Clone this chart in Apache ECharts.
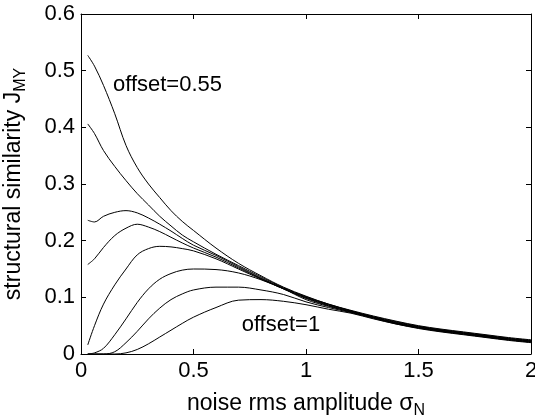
<!DOCTYPE html>
<html>
<head>
<meta charset="utf-8">
<script src="https://cdn.jsdelivr.net/npm/echarts@6/dist/echarts.min.js"></script>
<style>
html,body{margin:0;padding:0;background:#fff;}
#chart{width:535px;height:420px;}
</style>
</head>
<body>
<div id="chart"></div>
<script>
// noise rms amplitude sigma_N (shared x values)
const xs = [0.03, 0.06, 0.1, 0.15, 0.2, 0.25, 0.3, 0.35, 0.4, 0.45, 0.5, 0.6, 0.7, 0.8, 0.9, 1.0, 1.1, 1.2, 1.3, 1.4, 1.5, 1.6, 1.7, 1.8, 1.9, 2.0];
// structural similarity J_MY, one curve per offset (0.55 ... 1)
const curve1 = [0.527, 0.508, 0.474, 0.424, 0.368, 0.329, 0.300, 0.276, 0.253, 0.234, 0.218, 0.187, 0.160, 0.138, 0.118, 0.102, 0.088, 0.077, 0.067, 0.058, 0.050, 0.044, 0.039, 0.034, 0.029, 0.025];
const curve2 = [0.406, 0.389, 0.359, 0.331, 0.306, 0.283, 0.263, 0.243, 0.226, 0.210, 0.198, 0.176, 0.156, 0.136, 0.117, 0.101, 0.088, 0.076, 0.066, 0.057, 0.049, 0.043, 0.038, 0.033, 0.028, 0.024];
const curve3 = [0.236, 0.233, 0.243, 0.250, 0.253, 0.249, 0.240, 0.229, 0.217, 0.204, 0.192, 0.174, 0.154, 0.134, 0.116, 0.100, 0.087, 0.076, 0.065, 0.056, 0.048, 0.042, 0.037, 0.032, 0.027, 0.023];
const curve4 = [0.158, 0.168, 0.188, 0.209, 0.222, 0.229, 0.224, 0.216, 0.206, 0.196, 0.187, 0.171, 0.152, 0.133, 0.115, 0.099, 0.086, 0.075, 0.065, 0.055, 0.048, 0.042, 0.037, 0.032, 0.027, 0.023];
const curve5 = [0.016, 0.050, 0.088, 0.122, 0.150, 0.175, 0.186, 0.190, 0.189, 0.186, 0.182, 0.168, 0.150, 0.132, 0.115, 0.098, 0.085, 0.074, 0.064, 0.054, 0.047, 0.041, 0.036, 0.031, 0.026, 0.022];
const curve6 = [0.000, 0.002, 0.010, 0.034, 0.062, 0.091, 0.115, 0.132, 0.142, 0.148, 0.150, 0.149, 0.143, 0.131, 0.115, 0.096, 0.084, 0.074, 0.064, 0.054, 0.046, 0.040, 0.035, 0.030, 0.025, 0.021];
const curve7 = [0.000, 0.000, 0.000, 0.004, 0.020, 0.040, 0.062, 0.081, 0.096, 0.106, 0.113, 0.118, 0.118, 0.113, 0.105, 0.092, 0.082, 0.073, 0.063, 0.053, 0.046, 0.040, 0.035, 0.030, 0.025, 0.021];
const curve8 = [0.000, 0.000, 0.000, 0.000, 0.002, 0.008, 0.018, 0.030, 0.042, 0.054, 0.065, 0.082, 0.095, 0.096, 0.093, 0.087, 0.079, 0.072, 0.062, 0.053, 0.045, 0.039, 0.034, 0.029, 0.024, 0.020];
const curves = [curve1, curve2, curve3, curve4, curve5, curve6, curve7, curve8];

// annotation texts and their anchor points (data coordinates)
const noteTexts = ['offset=0.55', 'offset=1'];
const noteX = [0.142, 0.714];
const noteY = [0.475, 0.051];

// axes
const xTicks = {min: 0, max: 2, interval: 0.5};
const yTicks = {min: 0, max: 0.6, interval: 0.1};

const FONT = 'Liberation Sans';
const chart = echarts.init(document.getElementById('chart'), null, {renderer: 'canvas'});

const lineSeries = curves.map((c, k) => ({
  type: 'line',
  name: 'c' + (k + 1),
  data: xs.map((x, i) => [x, c[i]]),
  xAxisIndex: 0, yAxisIndex: 0,
  smooth: 0.35,
  showSymbol: false,
  symbol: 'none',
  clip: true,
  lineStyle: {color: '#000', width: 1},
  silent: true,
  animation: false
}));

const noteSeries = {
  type: 'scatter',
  xAxisIndex: 0, yAxisIndex: 0,
  symbolSize: 0,
  itemStyle: {opacity: 1},
  data: noteTexts.map((t, i) => ({value: [noteX[i], noteY[i]], name: t})),
  label: {
    show: true, position: 'right', distance: 0,
    formatter: p => p.name,
    color: '#000', opacity: 1, fontFamily: FONT, fontSize: 22
  },
  silent: true, animation: false
};

const axisCommon = {
  axisLine: {show: true, onZero: false, lineStyle: {color: '#000', width: 1}},
  axisTick: {show: true, inside: true, length: 5, lineStyle: {color: '#000', width: 1}},
  splitLine: {show: false}
};

chart.setOption({
  animation: false,
  backgroundColor: '#fff',
  grid: {left: 81, right: 4, top: 14, bottom: 66, containLabel: false, outerBoundsMode: 'none'},
  xAxis: [
    Object.assign({
      type: 'value', position: 'bottom',
      min: xTicks.min, max: xTicks.max, interval: xTicks.interval,
      axisLabel: {color: '#000', fontFamily: FONT, fontSize: 22, margin: 6},
      name: '{a|noise rms amplitude σ}{b|N}',
      nameLocation: 'middle', nameGap: 35,
      nameTextStyle: {
        color: '#000', fontFamily: FONT, fontSize: 23,
        rich: {
          a: {fontFamily: FONT, fontSize: 23, color: '#000'},
          b: {fontFamily: FONT, fontSize: 16, color: '#000', padding: [14, 0, 0, 0]}
        }
      }
    }, axisCommon),
    Object.assign({
      type: 'value', position: 'top',
      min: xTicks.min, max: xTicks.max, interval: xTicks.interval,
      axisLabel: {show: false}
    }, axisCommon)
  ],
  yAxis: [
    Object.assign({
      type: 'value', position: 'left',
      min: yTicks.min, max: yTicks.max, interval: yTicks.interval,
      axisLabel: {color: '#000', fontFamily: FONT, fontSize: 22, margin: 6},
      name: '{a|structural similarity J}{b|MY}',
      nameLocation: 'middle', nameGap: 52,
      nameTextStyle: {
        color: '#000', fontFamily: FONT, fontSize: 23,
        rich: {
          a: {fontFamily: FONT, fontSize: 23, color: '#000'},
          b: {fontFamily: FONT, fontSize: 16, color: '#000', padding: [14, 0, 0, 0]}
        }
      }
    }, axisCommon),
    Object.assign({
      type: 'value', position: 'right',
      min: yTicks.min, max: yTicks.max, interval: yTicks.interval,
      axisLabel: {show: false}
    }, axisCommon)
  ],
  series: lineSeries.concat([noteSeries])
});
</script>
</body>
</html>
